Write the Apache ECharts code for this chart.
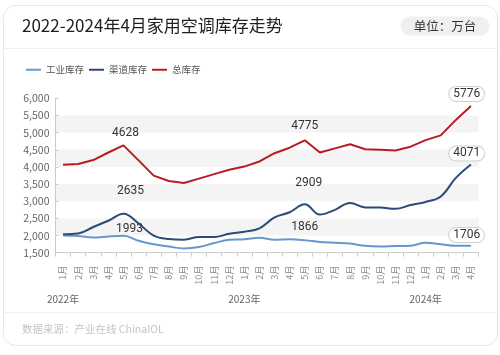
<!DOCTYPE html>
<html>
<head>
<meta charset="utf-8">
<script src="https://cdn.jsdelivr.net/npm/echarts@6/dist/echarts.min.js"></script>
<style>
html,body{margin:0;padding:0;background:#fff;}
#chart{width:500px;height:355px;}
</style>
</head>
<body>
<div id="chart"></div>
<script>
const months = ['1月','2月','3月','4月','5月','6月','7月','8月','9月','10月','11月','12月',
                '1月','2月','3月','4月','5月','6月','7月','8月','9月','10月','11月','12月',
                '1月','2月','3月','4月'];
const yearNames = ['2022年','2023年','2024年'];
const yearStartIdx = [0, 12, 24];
const industrial = [2000,1985,1945,1975,1993,1850,1745,1680,1625,1665,1780,1875,1890,1935,1875,1895,1866,1810,1790,1765,1700,1680,1695,1705,1790,1745,1700,1706];
const channel    = [2040,2060,2250,2430,2635,2350,2000,1900,1880,1960,1960,2050,2110,2210,2530,2680,2909,2610,2750,2950,2820,2815,2780,2890,2980,3140,3680,4071];
const total      = [4060,4085,4200,4420,4628,4190,3745,3590,3530,3660,3790,3920,4010,4160,4400,4560,4775,4420,4540,4660,4515,4500,4480,4590,4780,4920,5370,5776];
const labelIdx = [4, 16, 27];
const yTicks = {min:1500, max:6000, interval:500};

const yearLabels = months.map((m, i) => {
  const k = yearStartIdx.indexOf(i);
  return k >= 0 ? yearNames[k] : '';
});

const boxLabel = {
  borderColor:'#cfcfcf', borderWidth:1, borderRadius:8,
  backgroundColor:'#fff', padding:[1,4], lineHeight:12
};

function buildData(values, offsets){
  return values.map((v, i) => {
    const k = labelIdx.indexOf(i);
    if (k < 0) return v;
    const lab = {show:true, position:'inside', offset: offsets[k],
      fontSize:12, color:'#333', fontFamily:'Roboto, "Noto Sans CJK SC", sans-serif'};
    if (k === labelIdx.length - 1) Object.assign(lab, boxLabel);
    return {value:v, label: lab};
  });
}

const chart = echarts.init(document.getElementById('chart'), null, {renderer:'canvas'});
const FONT = '"Noto Sans CJK SC", "Noto Sans", sans-serif';

chart.setOption({
  animation:false,
  backgroundColor:'#fff',
  textStyle:{fontFamily:FONT},
  graphic:[
    {type:'rect', z:-10, shape:{x:3.5, y:5.5, width:494, height:340, r:12},
     style:{fill:'#fff', stroke:'#e8e8e8', lineWidth:1}},
    {type:'line', z:-9, shape:{x1:4, y1:48.5, x2:497, y2:48.5}, style:{stroke:'#efefef', lineWidth:1}},
    {type:'line', z:-9, shape:{x1:4, y1:312.5, x2:497, y2:312.5}, style:{stroke:'#f0f0f0', lineWidth:1}},
    {type:'text', left:22, top:17, style:{text:'2022-2024年4月家用空调库存走势', font:'17px '+FONT, fill:'#1e1e1e'}},
    {type:'rect', shape:{x:400.5, y:16.5, width:89, height:19, r:9.5}, style:{fill:'#f0f0f0'}},
    {type:'text', x:445, y:26, style:{text:'单位：万台', font:'12.5px '+FONT, fill:'#333', align:'center', verticalAlign:'middle'}},
    {type:'text', x:22, y:329.5, style:{text:'数据来源：产业在线 ChinaIOL', font:'10.5px '+FONT, fill:'#c4c4c4', verticalAlign:'middle'}}
  ],
  legend:{
    left:26, top:65, padding:0, itemWidth:15, itemHeight:2, itemGap:5, icon:'rect',
    textStyle:{fontSize:9.5, color:'#555'},
    data:['工业库存','渠道库存','总库存']
  },
  grid:{left:55.5, right:21.5, top:98.3, bottom:102.3},
  xAxis:[
    {type:'category', data:months, boundaryGap:true,
     axisLine:{show:true, lineStyle:{color:'#cccccc'}},
     axisTick:{show:true, length:4, lineStyle:{color:'#cccccc'}},
     axisLabel:{interval:0, rotate:90, margin:13, fontSize:9, color:'#888'}},
    {type:'category', data:yearLabels, boundaryGap:true, position:'bottom',
     axisLine:{show:false}, axisTick:{show:false},
     axisLabel:{interval:0, margin:41.5, fontSize:10, color:'#666'}}
  ],
  yAxis:{
    type:'value', min:yTicks.min, max:yTicks.max, interval:yTicks.interval,
    axisLine:{show:true, lineStyle:{color:'#cccccc'}},
    axisTick:{show:true, inside:true, length:3, lineStyle:{color:'#cccccc'}},
    axisLabel:{fontSize:10.5, color:'#666', margin:6,
      formatter:v => v.toLocaleString('en-US')},
    splitLine:{show:false},
    splitArea:{show:true, areaStyle:{color:['rgba(255,255,255,0)','#f4f4f4']}}
  },
  series:[
    {name:'工业库存', type:'line', smooth:0.4, symbol:'circle', symbolSize:0, showSymbol:true,
     lineStyle:{width:2, color:'#6697d1'}, itemStyle:{color:'#6697d1'},
     data:buildData(industrial, [[6,-6.5],[0,-12.8],[-4.3,-10.6]])},
    {name:'渠道库存', type:'line', smooth:0.4, symbol:'circle', symbolSize:0, showSymbol:true,
     lineStyle:{width:2, color:'#2c4a78'}, itemStyle:{color:'#2c4a78'},
     data:buildData(channel, [[7,-23],[4,-21],[-4.3,-11]])},
    {name:'总库存', type:'line', smooth:false, symbol:'circle', symbolSize:0, showSymbol:true,
     lineStyle:{width:2, color:'#b71c23'}, itemStyle:{color:'#b71c23'},
     data:buildData(total, [[2,-12.4],[0,-14.6],[-4.3,-12]])}
  ]
});
</script>
</body>
</html>
